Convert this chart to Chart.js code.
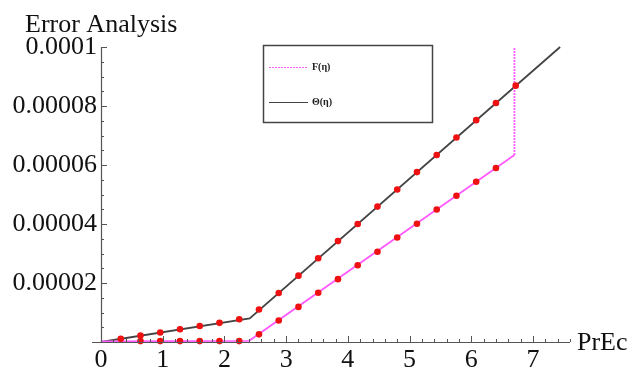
<!DOCTYPE html>
<html>
<head>
<meta charset="utf-8">
<script src="https://cdn.jsdelivr.net/npm/chart.js@4/dist/chart.umd.min.js"></script>
<style>
html,body{margin:0;padding:0;background:#fff;}
canvas{display:block;}
</style>
</head>
<body>
<canvas id="c" width="632" height="371"></canvas>
<script>
// ---- data ----
const titleText = "Error Analysis";
const xAxisLabel = "PrEc";
const xTickLabels = ["0","1","2","3","4","5","6","7"];
const yTickValues = [0.00002, 0.00004, 0.00006, 0.00008, 0.0001];
const yTickLabels = ["0.00002","0.00004","0.00006","0.00008","0.0001"];

// curve break points
const thetaLineX = [0, 2.41, 7.44];
const thetaLineY = [0, 0.0000080, 0.000100];
const fLineX = [0, 2.40, 6.70, 6.70];
const fLineY = [0.0000002, 0.0000004, 0.0000634, 0.000100];

// red marker points
const thetaDotX = [0.32,0.64,0.96,1.28,1.60,1.92,2.24,2.56,2.88,3.20,3.52,3.84,4.16,4.48,4.80,5.12,5.44,5.76,6.08,6.40,6.72];
const thetaDotY = [0.0000011,0.0000022,0.0000032,0.0000043,0.0000054,0.0000065,0.0000077,0.0000110,0.0000166,0.0000225,0.0000284,0.0000342,0.0000400,0.0000459,0.0000517,0.0000576,0.0000634,0.0000693,0.0000752,0.0000810,0.0000869];
const fDotX = [0.64,0.96,1.28,1.60,1.92,2.24,2.56,2.88,3.20,3.52,3.84,4.16,4.48,4.80,5.12,5.44,5.76,6.08,6.40];
const fDotY = [0.0000003,0.0000003,0.0000003,0.0000003,0.0000003,0.0000003,0.0000026,0.0000073,0.0000119,0.0000167,0.0000213,0.0000260,0.0000306,0.0000354,0.0000401,0.0000449,0.0000496,0.0000543,0.0000590];

const seriesNames = ["F(\u03B7)", "\u0398(\u03B7)"];

const toPts = (xs, ys) => xs.map((x, i) => ({x: x, y: ys[i]}));

const SERIF = "'Liberation Serif', 'DejaVu Serif', serif";
const MAGENTA = "#ff5cff";
const DARK = "#444444";
const AXIS = "#555555";

const decorPlugin = {
  id: 'decor',
  afterDraw(chart) {
    const ctx = chart.ctx;
    const xs = chart.scales.x, ys = chart.scales.y;
    const x0 = xs.getPixelForValue(0), y0 = ys.getPixelForValue(0);
    ctx.save();
    // axes lines
    ctx.strokeStyle = AXIS;
    ctx.lineWidth = 1.2;
    ctx.beginPath();
    ctx.moveTo(x0 - 9, y0 + 0.5); ctx.lineTo(xs.right, y0 + 0.5);
    ctx.moveTo(x0 + 0.5, y0); ctx.lineTo(x0 + 0.5, ys.top);
    ctx.stroke();
    // ticks (inside)
    ctx.lineWidth = 1;
    ctx.beginPath();
    for (let i = 1; i <= 38; i++) {
      const v = i * 0.2;
      const px = Math.round(xs.getPixelForValue(v)) + 0.5;
      const len = (i % 5 === 0) ? 6 : 3;
      ctx.moveTo(px, y0); ctx.lineTo(px, y0 - len);
    }
    for (let i = 1; i <= 20; i++) {
      const v = i * 0.000005;
      const py = Math.round(ys.getPixelForValue(v)) + 0.5;
      const len = (i % 4 === 0) ? 6 : 3;
      ctx.moveTo(x0, py); ctx.lineTo(x0 + len, py);
    }
    ctx.stroke();
    // title
    ctx.fillStyle = "#111";
    ctx.font = "26px " + SERIF;
    ctx.textAlign = "left";
    ctx.textBaseline = "alphabetic";
    ctx.fillText(titleText, 25, 32);
    // axis label
    ctx.fillText(xAxisLabel, 577, 350);
    // legend box
    const bx = 263.5, by = 45.5, bw = 169, bh = 77;
    ctx.strokeStyle = "#444";
    ctx.lineWidth = 1.5;
    ctx.strokeRect(bx, by, bw, bh);
    // legend entries
    ctx.lineWidth = 1.2;
    ctx.strokeStyle = MAGENTA;
    ctx.setLineDash([2, 1]);
    ctx.beginPath(); ctx.moveTo(269, 67.5); ctx.lineTo(308, 67.5); ctx.stroke();
    ctx.setLineDash([]);
    ctx.strokeStyle = DARK;
    ctx.beginPath(); ctx.moveTo(269, 102.5); ctx.lineTo(308, 102.5); ctx.stroke();
    ctx.fillStyle = "#222";
    ctx.font = "bold 10px " + SERIF;
    ctx.textBaseline = "middle";
    ctx.fillText(seriesNames[0], 312, 67);
    ctx.fillText(seriesNames[1], 312, 102);
    ctx.restore();
  }
};

new Chart(document.getElementById('c'), {
  type: 'scatter',
  data: {
    datasets: [
      {
        label: seriesNames[1],
        data: toPts(thetaLineX, thetaLineY),
        showLine: true, borderColor: DARK, borderWidth: 1.8,
        pointRadius: 0, order: 2, clip: false
      },
      {
        label: seriesNames[0],
        data: toPts(fLineX, fLineY),
        showLine: true, borderColor: MAGENTA, borderWidth: 1.8,
        pointRadius: 0, order: 1, clip: false,
        segment: { borderDash: c => (c.p0DataIndex === 2 ? [2, 1] : undefined) }
      },
      {
        label: 'thetaDots',
        data: toPts(thetaDotX, thetaDotY),
        showLine: false, pointRadius: 3.3, pointBackgroundColor: '#ee1111',
        pointBorderWidth: 0, borderColor: '#ee1111', order: 0, clip: false
      },
      {
        label: 'fDots',
        data: toPts(fDotX, fDotY),
        showLine: false, pointRadius: 3.3, pointBackgroundColor: '#ee1111',
        pointBorderWidth: 0, borderColor: '#ee1111', order: 0, clip: false
      }
    ]
  },
  options: {
    responsive: false,
    animation: false,
    layout: { padding: { left: 0, right: 62, top: 47, bottom: 0 } },
    plugins: { legend: { display: false }, tooltip: { enabled: false }, title: { display: false } },
    scales: {
      x: {
        type: 'linear', min: 0, max: 7.6,
        grid: { display: false, drawTicks: false },
        border: { display: false },
        afterFit: s => { s.height = 29; },
        afterBuildTicks: s => { s.ticks = xTickLabels.map(t => ({ value: Number(t) })); },
        ticks: {
          padding: 3,
          color: '#111',
          font: { family: SERIF, size: 26 },
          maxRotation: 0,
          autoSkip: false,
          callback: (v) => xTickLabels[Math.round(v)]
        }
      },
      y: {
        type: 'linear', min: 0, max: 0.0001,
        grid: { display: false, drawTicks: false },
        border: { display: false },
        afterFit: s => { s.width = 101; },
        afterBuildTicks: s => { s.ticks = yTickValues.map(v => ({ value: v })); },
        ticks: {
          padding: 4,
          color: '#111',
          font: { family: SERIF, size: 26 },
          autoSkip: false,
          callback: (v) => {
            const i = yTickValues.findIndex(t => Math.abs(t - v) < 1e-9);
            return i >= 0 ? yTickLabels[i] : '';
          }
        }
      }
    }
  },
  plugins: [decorPlugin]
});
</script>
</body>
</html>
